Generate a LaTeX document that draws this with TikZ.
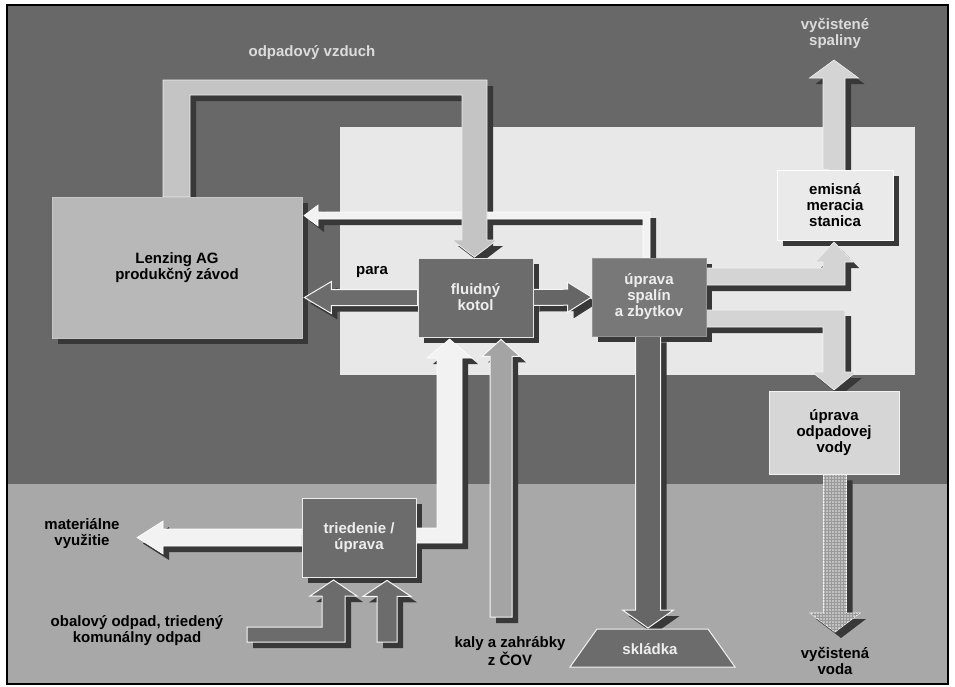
\documentclass[tikz,border=0pt]{standalone}
\usepackage{fontspec}
\setmainfont{Liberation Sans}
\usetikzlibrary{calc,patterns}
\definecolor{bgdark}{HTML}{686868}
\definecolor{bglight}{HTML}{A8A8A8}
\definecolor{panel}{HTML}{E8E8E8}
\definecolor{lzfill}{HTML}{B8B8B8}
\definecolor{boxdark}{HTML}{6C6C6C}
\definecolor{usfill}{HTML}{787878}
\definecolor{emfill}{HTML}{EAEAEA}
\definecolor{uvfill}{HTML}{D6D6D6}
\definecolor{odpfill}{HTML}{C4C4C4}
\definecolor{shadowc}{HTML}{383838}
\definecolor{lightarr}{HTML}{D4D4D4}
\definecolor{whitearr}{HTML}{F2F2F2}
\definecolor{kalyfill}{HTML}{A4A4A4}
\definecolor{darkarr}{HTML}{666666}
\definecolor{lighttext}{HTML}{DCDCDC}
\definecolor{wtext}{HTML}{EEEEEE}
\definecolor{vodafill}{HTML}{C2C2C2}
\pgfdeclarelayer{bgl}
\pgfdeclarelayer{bshadow}
\pgfdeclarelayer{ashadow}
\pgfdeclarelayer{arr}
\pgfsetlayers{bgl,bshadow,ashadow,arr,main}
\newcommand\straightarrow[6]{%
  \coordinate (sas) at (#2);
  \coordinate (sat) at (#3);
  \coordinate (sab) at ($(sat)!#6!(sas)$);
  \coordinate (sp1) at ($(sas)!#4!90:(sat)$);
  \coordinate (sp2) at ($(sab)!#4!-90:(sas)$);
  \coordinate (sp3) at ($(sab)!#5!-90:(sas)$);
  \coordinate (sp5) at ($(sab)!#5!90:(sas)$);
  \coordinate (sp6) at ($(sab)!#4!90:(sas)$);
  \coordinate (sp7) at ($(sas)!#4!-90:(sat)$);
  \begin{pgfonlayer}{ashadow}
  \fill[shadowc, transform canvas={xshift=6pt,yshift=-6pt}] (sp1)--(sp2)--(sp3)--(sat)--(sp5)--(sp6)--(sp7)--cycle;
  \end{pgfonlayer}
  \begin{pgfonlayer}{arr}
  \draw[#1] (sp1)--(sp2)--(sp3)--(sat)--(sp5)--(sp6)--(sp7)--cycle;
  \end{pgfonlayer}}
\newcommand\polyarrow[2]{%
  \begin{pgfonlayer}{ashadow}
  \fill[shadowc, transform canvas={xshift=6pt,yshift=-6pt}] #2;
  \end{pgfonlayer}
  \begin{pgfonlayer}{arr}
  \draw[#1] #2;
  \end{pgfonlayer}}
\newcommand\boxshadow[1]{%
  \begin{pgfonlayer}{bshadow}
  \fill[shadowc] ($(#1.south west)+(6,6)$) rectangle ($(#1.north east)+(6,6)$);
  \end{pgfonlayer}}
\tikzset{
  box/.style={draw, line width=0.8pt, inner sep=0pt, align=center},
  lbl/.style={align=center, inner sep=0pt},
  outl/.style={draw=white!96!black, line width=1pt, line join=miter},
  odparr/.style={fill=odpfill, draw=white!85!gray, line width=0.8pt},
  lightarrow/.style={fill=lightarr, draw=white!90!gray, line width=0.6pt},
  whitearrow/.style={fill=whitearr, draw=white, line width=0.6pt},
  darkarrow/.style={fill=darkarr, outl},
  paraarrow/.style={fill=boxdark, outl},
  kalyarrow/.style={fill=kalyfill, outl},
  vodaarrow/.style={fill=vodafill, draw=white!90!gray, line width=0.8pt,
    postaction={pattern=grid, pattern color=gray!80}},
}
\begin{document}
\begin{tikzpicture}[x=1pt,y=-1pt,font=\bfseries\fontsize{15}{16}\selectfont]
\useasboundingbox (0,0) rectangle (955,686);
\begin{pgfonlayer}{bgl}
\fill[white] (0,0) rectangle (955,686);
\fill[bgdark] (7,5) rectangle (948,484);
\fill[bglight] (7,484) rectangle (948,684);
\fill[panel] (340,127) rectangle (915,375);
\end{pgfonlayer}

% boxes
\node[box, fill=lzfill, draw=lzfill!80!white, minimum width=250pt, minimum height=141pt] (lz) at (177,267.5) {Lenzing AG\\produkčný závod};
\node[box, fill=boxdark, draw=white!80!gray, text=wtext, minimum width=115pt, minimum height=79pt] (fk) at (475.5,297.5) {fluidný\\kotol};
\node[box, fill=usfill, draw=usfill!80!white, text=wtext, minimum width=114pt, minimum height=78pt] (us) at (649,297) {úprava\\spalín\\a zbytkov};
\node[box, fill=emfill, draw=white, minimum width=116pt, minimum height=70pt] (em) at (835,205) {emisná\\meracia\\stanica};
\node[box, fill=uvfill, draw=white!90!gray, minimum width=130pt, minimum height=83pt] (uv) at (834,432.5) {úprava\\odpadovej\\vody};
\node[box, fill=boxdark, draw=white!85!gray, text=wtext, minimum width=114pt, minimum height=79pt] (tr) at (359,537.5) {triedenie /\\úprava};
\draw[fill=boxdark, draw=white!90!gray, line width=1pt] (597,629) -- (708,629) -- (735,667) -- (570,667) -- cycle;
\node[lbl, text=wtext] (sk) at (650,649) {skládka};
\coordinate (skt) at (648,628);

\boxshadow{lz}
\boxshadow{fk}
\boxshadow{us}
\boxshadow{em}
\boxshadow{tr}

% labels
\node[lbl, text=lighttext] (ovz) at (312,53) {odpadový vzduch};
\node[lbl, text=lighttext] (spal) at (835,33) {vyčistené\\spaliny};
\node[lbl] (para) at (372,272) {para};
\node[lbl] (mat) at (82,534) {materiálne\\využitie};
\node[lbl] (obal) at (137,631) {obalový odpad, triedený\\komunálny odpad};
\node[lbl] (kaly) at (510,651) {kaly a zahrábky\\z ČOV};
\node[lbl] (voda) at (835,661) {vyčistená\\voda};

% thin arrow us -> lz
\polyarrow{whitearrow}{(650,258) -- (650,212) -- (318,212) -- (318,205) -- (304,215.5) -- (318,226) -- (318,219) -- (643,219) -- (643,258) -- cycle}
% odpadovy vzduch: lz -> fk
\polyarrow{odparr}{(163,197) -- (163,80) -- (487,80) -- (487,240) -- (497,240) -- (474.5,257) -- (452,240) -- (462,240) -- (462,95) -- (190,95) -- (190,197) -- cycle}
% para: fk -> lz
\straightarrow{paraarrow}{fk.west}{$(lz.east |- fk.west)+(2,0)$}{8pt}{16pt}{27pt}
% fk -> us
\straightarrow{darkarrow}{fk.east}{us.west}{8pt}{15pt}{24pt}
% us -> em
\polyarrow{lightarrow}{(706,268) -- (823,268) -- (823,262) -- (815,262) -- (834,242) -- (853,262) -- (845,262) -- (845,285) -- (706,285) -- cycle}
% us -> uv
\polyarrow{lightarrow}{(706,310) -- (845,310) -- (845,372) -- (856,372) -- (834,390) -- (812,372) -- (823,372) -- (823,327) -- (706,327) -- cycle}
% em -> vycistene spaliny
\coordinate (spalt) at (834,60);
\straightarrow{lightarrow}{em.north -| spalt}{spalt}{11pt}{24.5pt}{18pt}
% us -> skladka
\straightarrow{darkarrow}{us.south -| skt}{skt}{12.5pt}{25.5pt}{18pt}
% uv -> vycistena voda
\coordinate (vodat) at (835,632);
\straightarrow{vodaarrow}{uv.south -| vodat}{vodat}{11.5pt}{25pt}{19pt}
% kaly -> fk
\coordinate (kalyb) at (501,617);
\straightarrow{kalyarrow}{kalyb}{$(kalyb |- fk.south)+(0,2)$}{11pt}{19pt}{17pt}
% tr -> fk
\polyarrow{whitearrow}{(416,528) -- (437,528) -- (437,358) -- (427,358) -- (449.5,339) -- (472,358) -- (462,358) -- (462,543) -- (416,543) -- cycle}
% tr -> materialne vyuzitie
\coordinate (matt) at (137,537.5);
\straightarrow{whitearrow}{tr.west}{matt}{8.5pt}{16.5pt}{26pt}
% inputs to tr
\polyarrow{paraarrow}{(247,627) -- (322,627) -- (322,596) -- (310,596) -- (333.5,580) -- (357,596) -- (345,596) -- (345,642) -- (247,642) -- cycle}
\coordinate (trb) at (387,642);
\straightarrow{paraarrow}{trb}{$(trb |- tr.south)+(0,3)$}{10pt}{24pt}{16pt}

\draw[black, line width=1.5pt] (7,5) rectangle (948,684);
\end{tikzpicture}
\end{document}
